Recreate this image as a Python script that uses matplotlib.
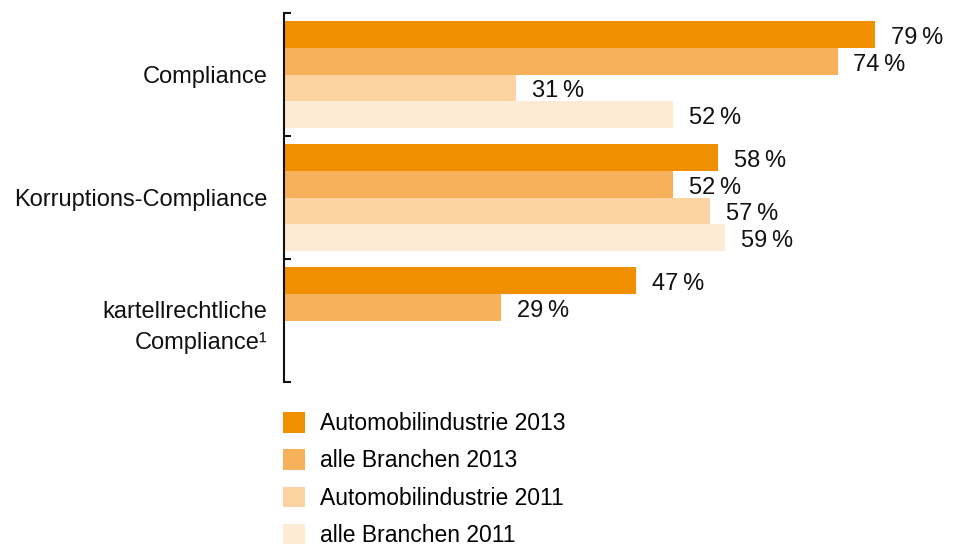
import numpy as np
import matplotlib.pyplot as plt
from matplotlib.ticker import FixedLocator

plt.rcParams['font.family'] = ['Liberation Sans', 'DejaVu Sans']

# Anteil der Unternehmen mit Compliance-Programm (in %)
categories = ['Compliance', 'Korruptions-Compliance', 'kartellrechtliche\nCompliance\u00b9']
series_names = ['Automobilindustrie 2013', 'alle Branchen 2013',
                'Automobilindustrie 2011', 'alle Branchen 2011']
auto_2013 = [79, 58, 47]
alle_2013 = [74, 52, 29]
auto_2011 = [31, 57, np.nan]
alle_2011 = [52, 59, np.nan]
colors = ['#F09000', '#F8B15B', '#FCD3A1', '#FDEBD6']

series = [auto_2013, alle_2013, auto_2011, alle_2011]

fig = plt.figure(figsize=(9.57, 5.49), dpi=100)
ax = fig.add_axes([284 / 957, 1 - 382 / 549, 1 - 284 / 957, 369 / 549])

bar_h = 0.2175
centers = np.arange(len(categories)) + 0.5
for k, (vals, col, name) in enumerate(zip(series, colors, series_names)):
    vals = np.array(vals, dtype=float)
    ypos = centers + (k - 1.5) * bar_h
    ok = ~np.isnan(vals)
    ax.barh(ypos[ok], vals[ok], height=bar_h, color=col, label=name, linewidth=0)
    for y, v in zip(ypos[ok], vals[ok]):
        ax.annotate(f'{v:.0f}\u2009%', xy=(v, y), xytext=(11.5, -2.5),
                    textcoords='offset points', va='center', ha='left',
                    fontsize=17, color='#111111')

ax.set_xlim(0, 673 / 7.48)
ax.set_ylim(3, 0)

for s in ['top', 'right', 'bottom']:
    ax.spines[s].set_visible(False)
ax.spines['left'].set_linewidth(1.5)
ax.spines['left'].set_color('#111111')
ax.set_xticks([])

# group separators as major ticks, category names on minor ticks
ax.yaxis.set_major_locator(FixedLocator([0, 1, 2, 3]))
ax.yaxis.set_major_formatter(plt.NullFormatter())
ax.tick_params(axis='y', which='major', direction='in', length=5, width=1.5,
               color='#111111')
ax.set_yticks(centers, minor=True)
ax.set_yticklabels(categories, minor=True, fontsize=17, color='#111111',
                   linespacing=1.55)
ax.tick_params(axis='y', which='minor', length=0, pad=12)

ax.legend(loc='upper left', bbox_to_anchor=(283 / 957, 1 - 412 / 549),
          bbox_transform=fig.transFigure, frameon=False, fontsize=16.5,
          handlelength=0.96, handleheight=1.0, handletextpad=0.66,
          labelspacing=0.62, borderpad=0, borderaxespad=0)

fig.savefig('out.png', dpi=100)
